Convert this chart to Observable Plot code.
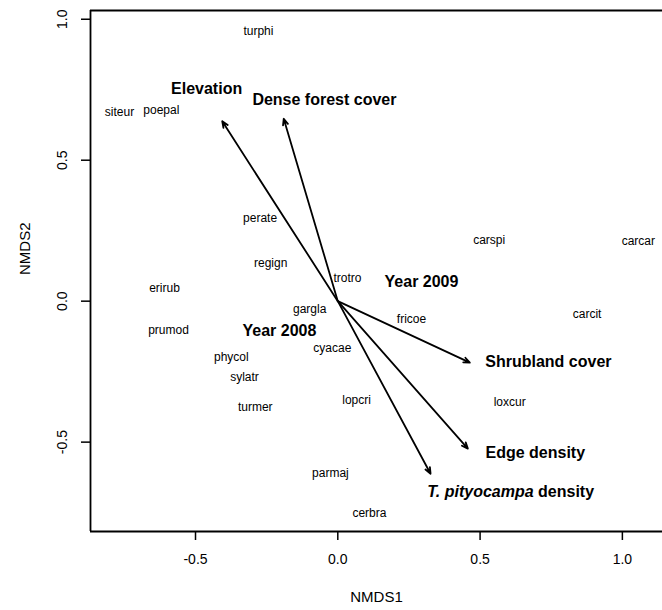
<!DOCTYPE html>
<html><head><meta charset="utf-8">
<script src="https://cdn.jsdelivr.net/npm/d3@7"></script>
<script src="https://cdn.jsdelivr.net/npm/@observablehq/plot@0.6"></script>
<style>body{margin:0;background:#fff} svg{display:block}</style>
</head><body><div id="chart"></div>
<script>
// species scores (NMDS1, NMDS2)
const species  = ["turphi","siteur","poepal","perate","regign","erirub","prumod","phycol","sylatr","turmer","gargla","cyacae","trotro","lopcri","fricoe","carspi","carcar","carcit","loxcur","parmaj","cerbra"];
const speciesX = [-0.279,-0.767,-0.620,-0.273,-0.236,-0.609,-0.595,-0.374,-0.328,-0.290,-0.099,-0.019,0.034,0.066,0.259,0.532,1.056,0.876,0.604,-0.026,0.111];
const speciesY = [0.956,0.669,0.676,0.293,0.134,0.045,-0.104,-0.200,-0.271,-0.377,-0.029,-0.168,0.080,-0.352,-0.065,0.215,0.212,-0.047,-0.359,-0.611,-0.753];

// environmental vectors (arrow tips)
const vectorNames = ["Elevation","Dense forest cover","Shrubland cover","Edge density","T. pityocampa density"];
const vectorX = [-0.406,-0.190,0.464,0.457,0.326];
const vectorY = [0.638,0.647,-0.218,-0.523,-0.612];

// bold labels (vectors and factor centroids)
const boldNames = ["Elevation","Dense forest cover","Shrubland cover","Edge density","Year 2008","Year 2009"];
const boldX = [-0.461,-0.047,0.740,0.694,-0.205,0.294];
const boldY = [0.754,0.715,-0.214,-0.537,-0.107,0.070];
// "T. pityocampa density" label: italic part / plain part meet here
const pityItalic = "T. pityocampa";
const pityPlain = "density";
const pityX = 0.696, pityY = -0.675;

const xTicks = [-0.5, 0.0, 0.5, 1.0];
const yTicks = [-0.5, 0.0, 0.5, 1.0];
const xDomain = [-0.869, 1.141];
const yDomain = [-0.817, 1.031];

const spData = species.map((s, i) => ({s, x: speciesX[i], y: speciesY[i]}));
const vecData = vectorNames.map((s, i) => ({s, x: vectorX[i], y: vectorY[i]}));
const boldData = boldNames.map((s, i) => ({s, x: boldX[i], y: boldY[i]}));
const fmt = d => d.toFixed(1);

const chart = Plot.plot({
  width: 662, height: 610,
  marginLeft: 90, marginRight: 0, marginTop: 10, marginBottom: 79,
  style: {fontFamily: "'Liberation Sans', Arial, sans-serif", background: "white", color: "black"},
  x: {domain: xDomain, axis: null},
  y: {domain: yDomain, axis: null},
  marks: [
    // box (right side lies beyond the picture)
    Plot.ruleX([xDomain[0]], {strokeWidth: 1.8}),
    Plot.ruleY(yDomain, {strokeWidth: 1.8}),
    // axes
    Plot.axisX({ticks: xTicks, tickSize: 9, tickPadding: 14, tickFormat: fmt, fontSize: 14, strokeWidth: 1.5, label: null}),
    Plot.axisY({ticks: yTicks, tickSize: 9, tickFormat: () => "", strokeWidth: 1.5, label: null}),
    Plot.text(yTicks, {x: () => xDomain[0], y: d => d, text: d => fmt(d), rotate: -90, dx: -27.5, fontSize: 14}),
    Plot.text(["NMDS1"], {frameAnchor: "bottom", dy: 70, fontSize: 15}),
    Plot.text(["NMDS2"], {frameAnchor: "left", dx: -65, dy: 4, rotate: -90, fontSize: 15}),
    // species
    Plot.text(spData, {x: "x", y: "y", text: "s", fontSize: 12, fill: "black"}),
    // vectors
    Plot.arrow(vecData, {x1: () => 0, y1: () => 0, x2: "x", y2: "y", strokeWidth: 1.8, headLength: 5.5, headAngle: 45}),
    // bold labels
    Plot.text(boldData, {x: "x", y: "y", text: "s", fontSize: 16, fontWeight: "bold"}),
    Plot.text([pityItalic], {x: () => pityX, y: () => pityY, text: d => d, fontSize: 16, fontWeight: "bold", fontStyle: "italic", textAnchor: "end", dx: -2.2}),
    Plot.text([pityPlain], {x: () => pityX, y: () => pityY, text: d => d, fontSize: 16, fontWeight: "bold", textAnchor: "start", dx: 2.2})
  ]
});
document.getElementById("chart").appendChild(chart);
</script>
</body></html>
